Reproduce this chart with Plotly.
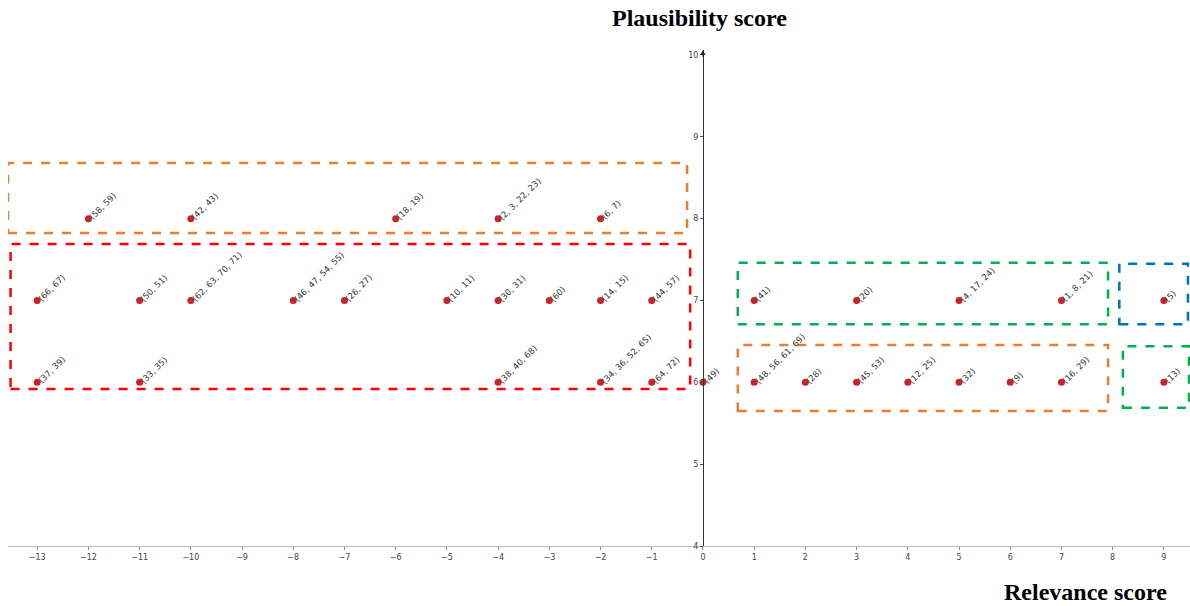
import plotly.graph_objects as go

# Data
relevance = [-12, -10, -6, -4, -2,
             -13, -11, -10, -8, -7, -5, -4, -3, -2, -1, 1, 3, 5, 7, 9,
             -13, -11, -4, -2, -1, 0, 1, 2, 3, 4, 5, 6, 7, 9]
plausibility = [8, 8, 8, 8, 8,
                7, 7, 7, 7, 7, 7, 7, 7, 7, 7, 7, 7, 7, 7, 7,
                6, 6, 6, 6, 6, 6, 6, 6, 6, 6, 6, 6, 6, 6]
labels = ["(58, 59)", "(42, 43)", "(18, 19)", "(2, 3, 22, 23)", "(6, 7)",
          "(66, 67)", "(50, 51)", "(62, 63, 70, 71)", "(46, 47, 54, 55)", "(26, 27)",
          "(10, 11)", "(30, 31)", "(60)", "(14, 15)", "(44, 57)", "(41)", "(20)",
          "(4, 17, 24)", "(1, 8, 21)", "(5)",
          "(37, 39)", "(33, 35)", "(38, 40, 68)", "(34, 36, 52, 65)", "(64, 72)",
          "(49)", "(48, 56, 61, 69)", "(28)", "(45, 53)", "(12, 25)", "(32)", "(9)",
          "(16, 29)", "(13)"]

# group boxes: x0, x1, y0, y1, colour
box_x0 = [-13.57, -13.52, 0.68, 8.13, 0.68, 8.2]
box_x1 = [-0.31, -0.25, 7.91, 9.47, 7.91, 9.49]
box_y0 = [7.825, 5.92, 6.71, 6.71, 5.65, 5.69]
box_y1 = [8.68, 7.69, 7.46, 7.45, 6.456, 6.44]
box_colors = ["#ED7D31", "#FF0000", "#00B050", "#0070C0", "#ED7D31", "#00B050"]

x_ticks = list(range(-13, 10))
y_ticks = [4, 5, 6, 7, 8, 9, 10]

XR = [-13.57, 9.51]
YR = [4, 10.061]

fig = go.Figure()
fig.add_trace(go.Scatter(
    x=relevance, y=plausibility, mode="markers",
    marker=dict(color="#C8242B", size=7),
    hoverinfo="skip", showlegend=False))

for x, y, t in zip(relevance, plausibility, labels):
    fig.add_annotation(x=x, y=y, text=t, showarrow=False, textangle=-45,
                       xanchor="left", yanchor="bottom", xshift=-4, yshift=-6,
                       font=dict(family="DejaVu Sans", size=8.5, color="#333333"))

for x0, x1, y0, y1, c in zip(box_x0, box_x1, box_y0, box_y1, box_colors):
    fig.add_shape(type="rect", x0=x0, x1=x1, y0=y0, y1=y1, xref="x", yref="y",
                  line=dict(color=c, width=2.5, dash="dash"), fillcolor="rgba(0,0,0,0)")

# arrow head on vertical axis
fig.add_annotation(x=0, y=YR[1], ax=0, ay=9.96, xref="x", yref="y", axref="x", ayref="y",
                   showarrow=True, arrowhead=2, arrowsize=1, arrowwidth=1,
                   arrowcolor="#222222", text="")

ypos = (0 - XR[0]) / (XR[1] - XR[0])

fig.update_layout(
    width=1190, height=606, autosize=False,
    margin=dict(l=8, r=0, t=50, b=60),
    paper_bgcolor="white", plot_bgcolor="white",
    xaxis=dict(range=XR, tickvals=x_ticks, showgrid=False, zeroline=False,
               showline=True, linecolor="#BBBBBB", linewidth=1,
               ticks="outside", ticklen=3, tickcolor="#888888",
               tickfont=dict(family="DejaVu Sans", size=8, color="#444444")),
    yaxis=dict(range=YR, tickvals=y_ticks, showgrid=False, zeroline=False,
               anchor="free", position=ypos, showline=True, linecolor="#333333",
               linewidth=1, ticks="outside", ticklen=3, tickcolor="#555555",
               tickfont=dict(family="DejaVu Sans", size=8, color="#444444")),
)
fig.add_annotation(text="<b>Plausibility score</b>", xref="paper", yref="paper",
                   x=(699 - 8) / 1182, y=(546 - 18) / 496, showarrow=False,
                   xanchor="center", yanchor="middle",
                   font=dict(family="Liberation Serif", size=24, color="black"))
fig.add_annotation(text="<b>Relevance score</b>", xref="paper", yref="paper",
                   x=(1085 - 8) / 1182, y=(546 - 592) / 496, showarrow=False,
                   xanchor="center", yanchor="middle",
                   font=dict(family="Liberation Serif", size=24, color="black"))

fig.write_html("out.html", config={"displayModeBar": False},
               post_script="document.body.style.margin='0';document.body.style.overflow='hidden';")
